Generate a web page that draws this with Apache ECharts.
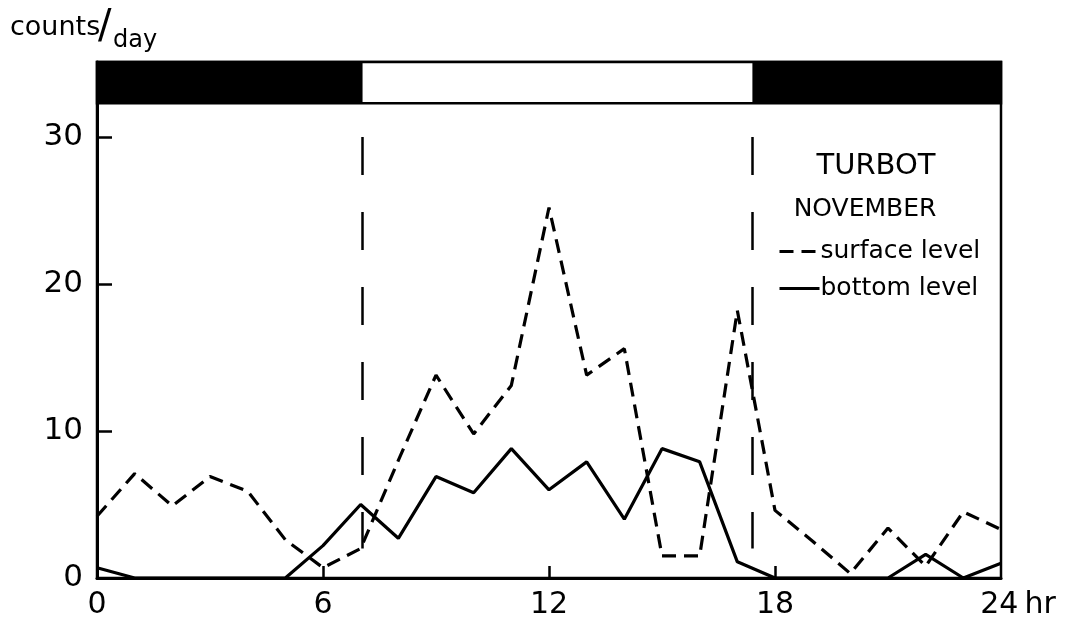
<!DOCTYPE html>
<html>
<head>
<meta charset="utf-8">
<script src="https://cdn.jsdelivr.net/npm/echarts@6/dist/echarts.min.js"></script>
<style>
html,body{margin:0;padding:0;background:#fff;}
#chart{width:1066px;height:620px;}
</style>
</head>
<body>
<div id="chart"></div>
<script>
// ---- data ----
const hours = [0,1,2,3,4,5,6,7,8,9,10,11,12,13,14,15,16,17,18,19,20,21,22,23,24];
const surfaceLevel = [4.2,7.1,4.9,6.9,5.9,2.6,0.7,2.0,8.0,13.8,9.8,13.1,25.2,13.8,15.6,1.5,1.5,18.2,4.6,2.5,0.3,3.4,0.8,4.5,3.3];
const bottomLevel  = [0.7,0,0,0,0,0,2.2,5.0,2.7,6.9,5.8,8.8,6.0,7.9,4.0,8.8,7.9,1.1,0,0,0,0,1.6,0,1.0];
const xTickLabels = [0,6,12,18,24];
const xTicks = [6,12,18];
const yTickLabels = [0,10,20,30];
const sunrise = 7.05, sunset = 17.4;       // light period (hours)
const barBottom = 32.3, barTop = 35.1;     // day/night strip extent (y units)
const markTop = 30, markBottom = 2;        // vertical dashed sunrise/sunset markers
const seriesNames = ['surface level','bottom level'];

const FONT = 'DejaVu Sans';
const chart = echarts.init(document.getElementById('chart'), null, {renderer:'canvas'});

const option = {
  animation: false,
  backgroundColor: '#fff',
  textStyle: {fontFamily: FONT, color: '#000'},
  grid: {left: 97, right: 65, top: 62, bottom: 38, show: true, borderColor: '#000', borderWidth: 2.5, backgroundColor: 'transparent'},
  title: [
    {text: 'TURBOT', left: 871, top: 147, textAlign: 'center',
     textStyle: {fontFamily: FONT, fontSize: 29, fontWeight: 'normal', color: '#000'}},
    {text: 'NOVEMBER', left: 860, top: 192, textAlign: 'center',
     textStyle: {fontFamily: FONT, fontSize: 25, fontWeight: 'normal', color: '#000'}}
  ],
  legend: {
    data: seriesNames,
    orient: 'vertical', left: 773, top: 234,
    itemWidth: 40, itemHeight: 14, itemGap: 12,
    itemStyle: {opacity: 0},
    lineStyle: {width: 3},
    textStyle: {fontFamily: FONT, fontSize: 25, color: '#000', padding: [0,0,0,-4]}
  },
  graphic: [
    {type: 'text', left: 10, top: 14, style: {text: 'counts', font: '27px "DejaVu Sans"', fill: '#000'}},
    {type: 'text', left: 98, top: 8, style: {text: '/', font: '40px "DejaVu Sans"', fill: '#000'}},
    {type: 'text', left: 113, top: 29, style: {text: 'day', font: '24px "DejaVu Sans"', fill: '#000'}}
  ],
  xAxis: {
    type: 'value', min: 0, max: 24, interval: 6,
    splitLine: {show: false},
    axisLine: {show: true, onZero: false, lineStyle: {color: '#000', width: 3}},
    axisTick: {show: true, inside: true, length: 12, customValues: xTicks, lineStyle: {color: '#000', width: 2.5}},
    axisLabel: {
      customValues: xTickLabels, margin: 12, color: '#000', fontFamily: FONT, fontSize: 30,
      formatter: v => v === 24 ? '{p|}24{h|hr}' : String(v),
      rich: {p: {width: 34, fontSize: 30}, h: {fontFamily: FONT, fontSize: 30, color: '#000', padding: [0,0,0,6]}}
    }
  },
  yAxis: {
    type: 'value', min: 0, max: barTop,
    splitLine: {show: false},
    axisLine: {show: true, lineStyle: {color: '#000', width: 3}},
    axisTick: {show: true, inside: true, length: 15, customValues: yTickLabels, lineStyle: {color: '#000', width: 2.5}},
    axisLabel: {customValues: yTickLabels, margin: 14, color: '#000', fontFamily: FONT, fontSize: 31}
  },
  series: [
    {
      name: seriesNames[0], type: 'line', symbol: 'none', silent: true,
      data: hours.map((h,i) => [h, surfaceLevel[i]]),
      lineStyle: {color: '#000', width: 3.2, type: [14, 8]},
      itemStyle: {color: '#000'},
      markLine: {
        silent: true, symbol: ['none','none'], label: {show: false},
        lineStyle: {color: '#000', width: 2.5, type: [38, 37]},
        data: [
          [{coord: [sunrise, markTop]}, {coord: [sunrise, markBottom]}],
          [{coord: [sunset, markTop]}, {coord: [sunset, markBottom]}]
        ]
      },
      markArea: {
        silent: true, label: {show: false},
        data: [
          [{coord: [0, barBottom], itemStyle: {color: '#fff', borderColor: '#000', borderWidth: 2.5}}, {coord: [24, barTop]}],
          [{coord: [0, barBottom], itemStyle: {color: '#000', borderWidth: 0}}, {coord: [sunrise, barTop]}],
          [{coord: [sunset, barBottom], itemStyle: {color: '#000', borderWidth: 0}}, {coord: [24, barTop]}]
        ]
      }
    },
    {
      name: seriesNames[1], type: 'line', symbol: 'none', silent: true,
      data: hours.map((h,i) => [h, bottomLevel[i]]),
      lineStyle: {color: '#000', width: 3.2, type: 'solid'},
      itemStyle: {color: '#000'}
    }
  ]
};
chart.setOption(option);
</script>
</body>
</html>
